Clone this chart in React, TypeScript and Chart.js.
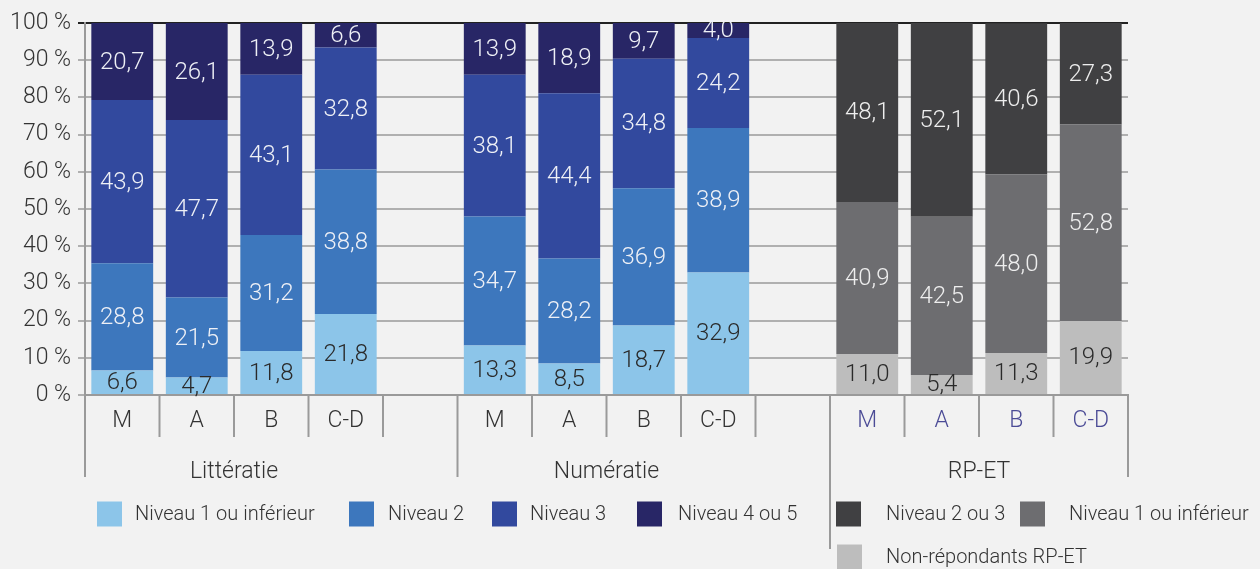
import React, { useEffect, useRef } from "react";
import { Chart, registerables } from "chart.js";
Chart.register(...registerables);

const FONT = "Roboto, 'Liberation Sans', sans-serif";
const WEIGHT = "300";

const categories = ["M", "A", "B", "C-D", "", "M", "A", "B", "C-D", "", "M", "A", "B", "C-D"];
const groupNames = ["Littératie", "Numératie", "RP-ET"];
const groupFirst = [0, 5, 10];
const groupLast = [3, 8, 13];
const yTicks = [0, 10, 20, 30, 40, 50, 60, 70, 80, 90, 100];

const niveau1 = [6.6, 4.7, 11.8, 21.8, null, 13.3, 8.5, 18.7, 32.9, null, null, null, null, null];
const niveau2 = [28.8, 21.5, 31.2, 38.8, null, 34.7, 28.2, 36.9, 38.9, null, null, null, null, null];
const niveau3 = [43.9, 47.7, 43.1, 32.8, null, 38.1, 44.4, 34.8, 24.2, null, null, null, null, null];
const niveau45 = [20.7, 26.1, 13.9, 6.6, null, 13.9, 18.9, 9.7, 4.0, null, null, null, null, null];
const rpNonRep = [null, null, null, null, null, null, null, null, null, null, 11.0, 5.4, 11.3, 19.9];
const rpNiveau1 = [null, null, null, null, null, null, null, null, null, null, 40.9, 42.5, 48.0, 52.8];
const rpNiveau23 = [null, null, null, null, null, null, null, null, null, null, 48.1, 52.1, 40.6, 27.3];

const series = [
  { label: "Niveau 1 ou inférieur", data: niveau1, color: "#8cc5e9", text: "#2a2a2a" },
  { label: "Niveau 2", data: niveau2, color: "#3d77bd", text: "#eef0f6" },
  { label: "Niveau 3", data: niveau3, color: "#32499e", text: "#eef0f6" },
  { label: "Niveau 4 ou 5", data: niveau45, color: "#282666", text: "#eef0f6" },
  { label: "Non-répondants RP-ET", data: rpNonRep, color: "#bdbdbd", text: "#2a2a2a" },
  { label: "Niveau 1 ou inférieur", data: rpNiveau1, color: "#6d6d70", text: "#eeeeee" },
  { label: "Niveau 2 ou 3", data: rpNiveau23, color: "#404042", text: "#eeeeee" },
];

// legend layout: [series index, swatch x, text x, row center y]
const legendItems = [
  [0, 97, 135, 514],
  [1, 349, 388, 514],
  [2, 492, 530, 514],
  [3, 637, 678, 514],
  [6, 836, 886, 514],
  [5, 1020, 1069, 514],
  [4, 837, 886, 557],
];

const segLabels = {
  id: "segLabels",
  afterDatasetsDraw(chart: any) {
    const ctx = chart.ctx;
    ctx.save();
    ctx.font = `${WEIGHT} 24px ${FONT}`;
    ctx.textAlign = "center";
    ctx.textBaseline = "middle";
    chart.data.datasets.forEach((ds: any, di: number) => {
      const meta = chart.getDatasetMeta(di);
      meta.data.forEach((el: any, i: number) => {
        const v = ds.data[i];
        if (v == null) return;
        ctx.fillStyle = series[di].text;
        ctx.fillText(v.toFixed(1).replace(".", ","), el.x, (el.y + el.base) / 2 + 1);
      });
    });
    ctx.restore();
  },
};

const axisDecor = {
  id: "axisDecor",
  afterDraw(chart: any) {
    const ctx = chart.ctx;
    const xs = chart.scales.x;
    const bottom = chart.chartArea.bottom;
    const slot = xs.getPixelForValue(1) - xs.getPixelForValue(0);
    const b = (i: number) => xs.getPixelForValue(i) - slot / 2;
    ctx.save();
    ctx.strokeStyle = "#9a9a9a";
    ctx.lineWidth = 2;
    for (let i = 0; i <= categories.length; i++) {
      let end = bottom + 42;
      if (i === 0 || i === 5 || i === categories.length) end = bottom + 82;
      if (i === 10) end = bottom + 154;
      ctx.beginPath();
      ctx.moveTo(b(i), bottom);
      ctx.lineTo(b(i), end);
      ctx.stroke();
    }
    ctx.font = `${WEIGHT} 23px ${FONT}`;
    ctx.textAlign = "center";
    ctx.textBaseline = "middle";
    ctx.fillStyle = "#333333";
    groupNames.forEach((g, gi) => {
      const cx = (xs.getPixelForValue(groupFirst[gi]) + xs.getPixelForValue(groupLast[gi])) / 2;
      ctx.fillText(g, cx, bottom + 77);
    });
    // legend
    ctx.font = `${WEIGHT} 20px ${FONT}`;
    ctx.textAlign = "left";
    legendItems.forEach(([si, sx, tx, cy]) => {
      ctx.fillStyle = series[si].color;
      ctx.fillRect(sx, cy - 12.5, 25, 25);
      ctx.fillStyle = "#333333";
      ctx.fillText(series[si].label, tx, cy + 1);
    });
    ctx.restore();
  },
};

export default function App() {
  const ref = useRef<HTMLCanvasElement>(null);
  useEffect(() => {
    const canvas = ref.current!;
    const chart = new Chart(canvas, {
      type: "bar",
      data: {
        labels: categories,
        datasets: series.map((s) => ({
          label: s.label,
          data: s.data as any,
          backgroundColor: s.color,
          stack: "s",
          barPercentage: 0.83,
          categoryPercentage: 1,
          borderWidth: 0,
        })),
      },
      options: {
        animation: false,
        responsive: false,
        devicePixelRatio: 1,
        layout: { padding: { top: 23, right: 132, left: 0, bottom: 0 } },
        plugins: { legend: { display: false }, tooltip: { enabled: false } },
        scales: {
          x: {
            stacked: true,
            grid: { display: false, drawTicks: false },
            border: { display: true, color: "#9a9a9a", width: 2 },
            ticks: {
              padding: 12,
              autoSkip: false,
              maxRotation: 0,
              font: { size: 23, family: FONT, weight: WEIGHT as any },
              color: (c: any) => (c.index >= 10 ? "#4b4b96" : "#333333"),
            },
            afterFit: (s: any) => {
              s.height = 174;
            },
          },
          y: {
            stacked: true,
            min: 0,
            max: 100,
            afterBuildTicks: (s: any) => {
              s.ticks = yTicks.map((v) => ({ value: v }));
            },
            ticks: {
              callback: (v: any) => v + " %",
              font: { size: 23, family: FONT, weight: WEIGHT as any },
              color: "#333333",
              padding: 7,
            },
            grid: {
              color: (c: any) => (c.tick && c.tick.value === 100 ? "#222222" : "#b0b0b0"),
              lineWidth: 2,
              tickLength: 7,
            },
            border: { color: "#9a9a9a", width: 2 },
            afterFit: (s: any) => {
              s.width = 85;
            },
          },
        },
      },
      plugins: [segLabels, axisDecor],
    });
    return () => chart.destroy();
  }, []);
  return (
    <div style={{ position: "fixed", left: 0, top: 0, width: 1260, height: 569, background: "#f2f2f2" }}>
      <canvas ref={ref} width={1260} height={569} style={{ width: 1260, height: 569, display: "block" }} />
    </div>
  );
}
